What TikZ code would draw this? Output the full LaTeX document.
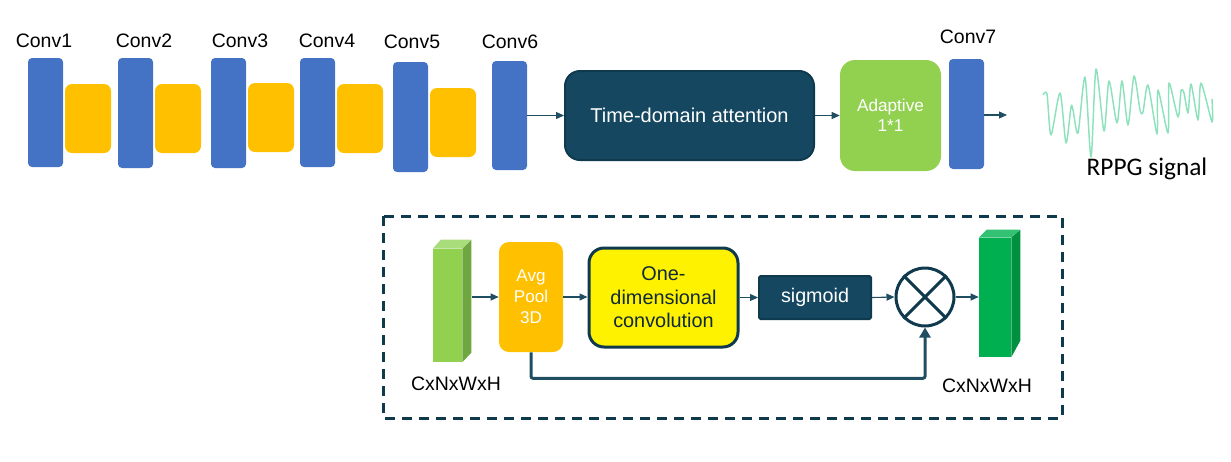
\documentclass[tikz,border=0pt]{standalone}
\usepackage{fontspec}
\setmainfont{Liberation Sans}
\newfontfamily\calib{Carlito}
\usetikzlibrary{arrows.meta,calc}
\definecolor{convblue}{HTML}{4472C4}
\definecolor{poolyel}{HTML}{FFC000}
\definecolor{dteal}{HTML}{154860}
\definecolor{dtealb}{HTML}{0F3A4D}
\definecolor{arrcol}{HTML}{1F4E63}
\definecolor{lgreen}{HTML}{92D050}
\definecolor{lgreentop}{HTML}{A9DC7A}
\definecolor{lgreenside}{HTML}{70A640}
\definecolor{dgreen}{HTML}{00B050}
\definecolor{dgreentop}{HTML}{33C174}
\definecolor{dgreenside}{HTML}{00903F}
\definecolor{sigcol}{HTML}{8DE2BC}
\definecolor{txtdark}{HTML}{0F2A36}
\def\u{0.75pt}
\begin{document}
\begin{tikzpicture}[x=0.75pt,y=-0.75pt,
  convbar/.style={fill=convblue, rounded corners=4*\u, minimum width=35*\u, inner sep=0pt},
  poolbox/.style={fill=poolyel, rounded corners=7*\u, minimum width=46*\u, minimum height=69*\u, inner sep=0pt},
  lbl/.style={font=\fontsize{14.6}{17}\selectfont, inner sep=0pt},
  arr/.style={draw=arrcol, line width=1.1*\u, -{Triangle[length=8*\u,width=7*\u]}},
  fb/.style={draw=arrcol, line width=3*\u, -{Triangle[length=10*\u,width=11*\u]}},
]
\useasboundingbox (0,0) rectangle (1231,461);

% ---- top row ----
\node[convbar, minimum height=109*\u] (c1) at (45.5,112.5) {};
\node[poolbox] (p1) at (88,118.5) {};
\node[convbar, minimum height=110*\u] (c2) at (135.5,113) {};
\node[poolbox] (p2) at (178,118.5) {};
\node[convbar, minimum height=110*\u] (c3) at (228.5,113) {};
\node[poolbox] (p3) at (271,117.5) {};
\node[convbar, minimum height=109*\u] (c4) at (317.5,112.5) {};
\node[poolbox] (p4) at (360,118.5) {};
\node[convbar, minimum height=110*\u] (c5) at (410.5,117) {};
\node[poolbox] (p5) at (453,122.5) {};
\node[convbar, minimum height=109*\u] (c6) at (509.5,115.5) {};
\node[convbar, minimum height=110*\u] (c7) at (966.5,114) {};

\node[lbl] (l1) at (44,41) {Conv1};
\node[lbl] (l2) at (144,41) {Conv2};
\node[lbl] (l3) at (240,41) {Conv3};
\node[lbl] (l4) at (327,41) {Conv4};
\node[lbl] (l5) at (412,42) {Conv5};
\node[lbl] (l6) at (510,42) {Conv6};
\node[lbl] (l7) at (968,37) {Conv7};

\node[fill=dteal, draw=dtealb, line width=2*\u, rounded corners=15*\u,
      minimum width=249*\u, minimum height=89*\u, inner sep=0pt,
      text=white, font=\fontsize{15}{18}\selectfont] (tda) at (689.5,115.5) {Time-domain attention};
\node[fill=lgreen, rounded corners=15*\u, minimum width=101*\u, minimum height=111*\u,
      inner sep=0pt, text=white, align=center, font=\fontsize{12.9}{15}\selectfont] (ada) at (890.5,115.5) {Adaptive\\1*1};

\coordinate (outend) at (1007,115);
\draw[arr] (c6.east) -- (c6.east -| tda.west);
\draw[arr] (tda.east) -- (tda.east -| ada.west);
\draw[arr] (c7.east |- outend) -- (outend);

\draw[sigcol, line width=1.1pt, line join=round] plot[smooth, tension=0.45] coordinates {
 (1043,95) (1047,94) (1051,135) (1060,93) (1066,143) (1071,107) (1073,110) (1078,133)
 (1085,77) (1091,157) (1096,69) (1104,131) (1109,81) (1117,123) (1122,81) (1128,125)
 (1134,76) (1140,110) (1143,112) (1148,85) (1157,134) (1158,90) (1168,133) (1169,83)
 (1178,117) (1181,91) (1184,93) (1188,113) (1191,84) (1198,120) (1201,83) (1212,122) (1212,99)};
\node[font=\calib\fontsize{19}{22}\selectfont, inner sep=0pt] (rppg) at (1147,169) {RPPG signal};

% ---- bottom panel ----
\draw[draw=dtealb, line width=3*\u, dash pattern=on 10*\u off 7*\u] (383,216) rectangle (1062,418);

% cube 1
\node[fill=lgreen, minimum width=29*\u, minimum height=113*\u, inner sep=0pt] (cube1) at (447.5,305.5) {};
\fill[lgreentop] (cube1.north west) -- ++(8,-9) -- ++(30,0) -- (cube1.north east) -- cycle;
\fill[lgreenside] (cube1.north east) -- ++(9,-9) -- ++(0,113) -- (cube1.south east) -- cycle;
\coordinate (cube1out) at (472,297);

\node[fill=poolyel, rounded corners=10*\u, minimum width=64*\u, minimum height=110*\u, inner sep=0pt,
      text=white, align=center, font=\fontsize{12.8}{15.75}\selectfont] (avg) at (531,297) {Avg\\Pool\\3D};
\node[fill=yellow, draw=dtealb, line width=3*\u, rounded corners=15*\u, minimum width=149*\u,
      minimum height=99*\u, inner sep=0pt, text=txtdark, align=center,
      font=\fontsize{14.9}{17.6}\selectfont] (oned) at (663.5,297.5) {One-\\dimensional\\convolution};
\node[fill=dteal, draw=dtealb, line width=2*\u, rounded corners=1.5*\u, minimum width=112*\u,
      minimum height=43*\u, inner sep=0pt, text=white, font=\fontsize{14.8}{17}\selectfont] (sig) at (815,297.5) {sigmoid};
\node[circle, fill=white, draw=dtealb, line width=3*\u, minimum size=58*\u, inner sep=0pt] (mul) at (925,297) {};
\draw[dtealb, line width=3*\u] (mul.north west) -- (mul.south east);
\draw[dtealb, line width=3*\u] (mul.north east) -- (mul.south west);

% cube 2
\node[fill=dgreen, minimum width=32*\u, minimum height=119*\u, inner sep=0pt] (cube2) at (995,297.5) {};
\fill[dgreentop] (cube2.north west) -- ++(8,-8) -- ++(33,0) -- (cube2.north east) -- cycle;
\fill[dgreenside] (cube2.north east) -- ++(9,-8) -- ++(0,111) -- (cube2.south east) -- cycle;

\draw[arr] (cube1out) -- (avg.west);
\draw[arr] (avg.east) -- (oned.west |- avg.east);
\draw[arr] (oned.east |- sig.west) -- (sig.west);
\draw[arr] (sig.east) -- (mul.west);
\draw[arr] (mul.east) -- (cube2.west |- mul.east);
\draw[fb, rounded corners=2*\u] (avg.south) -- ++(0,26) -| (mul.south);

\node[lbl] (dim1) at (456,384) {CxNxWxH};
\node[lbl] (dim2) at (987,386) {CxNxWxH};
\end{tikzpicture}
\end{document}
